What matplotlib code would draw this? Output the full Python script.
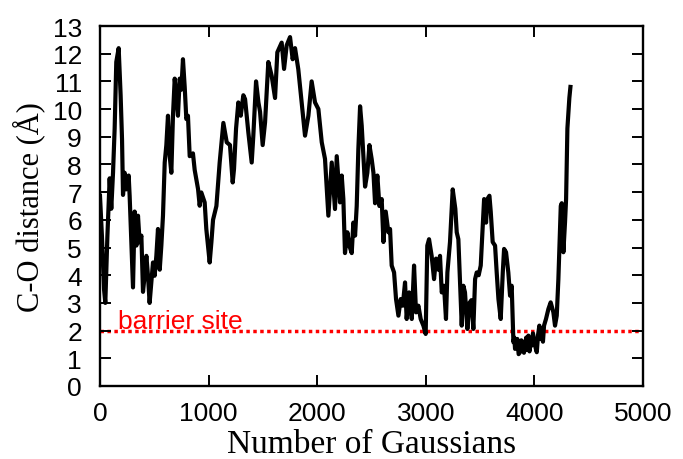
import numpy as np
import matplotlib
matplotlib.use("Agg")
import matplotlib.pyplot as plt

# C-O distance along the run
n_gauss = [0, 18, 37, 49, 68, 89, 104, 120, 135, 150, 172, 190, 203, 212, 227, 242,
           264, 273, 289, 304, 319, 335, 350, 365, 381, 396, 411, 427, 442, 457, 473,
           488, 503, 519, 534, 550, 565, 580, 596, 611, 626, 642, 657, 672, 688, 703,
           718, 734, 749, 764, 780, 795, 810, 826, 856, 872, 903, 918, 933, 964, 979,
           1010, 1026, 1041, 1072, 1102, 1136, 1167, 1197, 1222, 1234, 1253, 1274, 1296,
           1320, 1336, 1366, 1397, 1412, 1437, 1459, 1474, 1498, 1520, 1550, 1581, 1612,
           1633, 1673, 1695, 1719, 1750, 1774, 1796, 1826, 1857, 1888, 1919, 1949, 1980,
           2011, 2042, 2072, 2103, 2134, 2164, 2180, 2210, 2226, 2241, 2256, 2278, 2296,
           2318, 2333, 2349, 2364, 2379, 2395, 2410, 2426, 2441, 2462, 2481, 2502, 2518,
           2533, 2554, 2573, 2594, 2610, 2631, 2656, 2671, 2686, 2708, 2726, 2748, 2769,
           2788, 2809, 2824, 2846, 2871, 2892, 2910, 2932, 2953, 2978, 2999, 3014, 3030,
           3054, 3076, 3094, 3116, 3131, 3147, 3168, 3186, 3199, 3223, 3248, 3272, 3285,
           3300, 3331, 3346, 3361, 3383, 3402, 3420, 3438, 3454, 3469, 3487, 3506, 3525,
           3537, 3555, 3567, 3586, 3598, 3616, 3638, 3653, 3669, 3690, 3709, 3721, 3739,
           3760, 3776, 3791, 3807, 3815, 3822, 3832, 3843, 3855, 3868, 3880, 3893, 3904,
           3914, 3925, 3935, 3945, 3955, 3965, 3976, 3987, 3997, 4010, 4022, 4034, 4046,
           4058, 4068, 4079, 4089, 4107, 4129, 4150, 4175, 4190, 4206, 4221, 4243, 4252,
           4267, 4282, 4292, 4304, 4322, 4332]
co_dist = [6.87, 5.4, 3.5, 3.0, 5.4, 7.5, 6.4, 7.7, 9.3, 11.7, 12.2, 10.5, 8.9, 6.9, 7.7, 7.1,
           7.6, 6.87, 5.2, 3.56, 6.3, 5.07, 6.15, 5.19, 5.43, 3.4, 3.98, 4.7, 3.98, 3.0, 3.74,
           4.46, 3.98, 4.7, 5.67, 4.2, 5.07, 6.15, 8.07, 8.7, 9.76, 8.3, 7.7, 9.76, 11.1, 10.5,
           9.76, 11.1, 10.7, 11.8, 10.8, 9.64, 9.76, 8.3, 8.4, 7.8, 7.11, 6.51, 6.99, 6.63, 5.67,
           4.46, 5.2, 6.0, 6.5, 8.07, 9.5, 8.8, 8.7, 7.35, 7.83, 9.3, 10.24, 9.76,
           10.5, 10.36, 9.16, 8.07, 9.04, 11.0, 10.24, 9.9, 8.7, 9.52, 11.7, 11.2, 10.4,
           12.05, 12.4, 11.45, 12.3, 12.6, 11.8, 12.2, 11.44, 10.24, 9.04, 9.76, 11.0, 10.24,
           10.0, 8.8, 8.2, 6.15, 8.07, 6.39, 8.3, 6.63, 7.6, 6.75, 4.8, 5.55, 5.07,
           4.8, 5.9, 5.43, 6.5, 8.55, 10.1, 9.4, 8.3, 7.2, 7.7, 8.7, 8.19, 7.7,
           6.6, 7.6, 6.5, 6.75, 5.2, 6.3, 5.55, 5.67, 4.35, 4.1, 3.14, 2.54, 3.14,
           2.9, 3.74, 2.42, 3.38, 2.42, 4.35, 2.66, 2.9, 2.42, 2.18, 1.88, 5.07, 5.3,
           4.7, 3.86, 4.6, 4.2, 4.7, 3.38, 3.62, 2.42, 4.1, 5.2, 7.1, 6.4, 5.55,
           5.3, 2.18, 3.62, 3.38, 2.06, 3.0, 3.1, 2.06, 3.86, 4.1, 4.0, 4.35, 5.8,
           6.75, 5.9, 6.75, 6.87, 6.3, 5.2, 5.07, 4.1, 3.14, 2.42, 4.1, 4.95, 4.83,
           4.1, 3.26, 3.62, 1.58, 1.75, 1.34, 1.6, 1.7, 1.15, 1.22, 1.65, 1.58, 1.2,
           1.46, 1.75, 1.3, 1.82, 1.25, 1.6, 1.46, 1.9, 1.7, 1.4, 1.22, 1.85, 2.18,
           1.7, 1.94, 1.6, 2.18, 2.42, 2.78, 3.02, 2.66, 2.18, 2.54, 3.86, 6.5, 6.6,
           4.83, 5.9, 6.75, 9.3, 10.4, 10.8]

barrier = 2.0
barrier_label = "barrier site"

plt.rcParams["font.family"] = "Liberation Sans"
plt.rcParams["xtick.labelsize"] = 19
plt.rcParams["ytick.labelsize"] = 19

fig = plt.figure(figsize=(6.83, 4.60), dpi=100)
ax = fig.add_axes([0.1464, 0.1587, 0.795, 0.7826])

ax.axhline(barrier, color="#ff0000", lw=2.5, dashes=(1, 1), zorder=1)
ax.plot(n_gauss, co_dist, color="black", lw=3.0, zorder=2)
ax.text(166, 2.1, barrier_label, color="#ff0000", fontsize=19,
        va="baseline", ha="left")

ax.set_xlim(0, 5000)
ax.set_ylim(0, 13)
ax.set_xticks(np.arange(0, 5001, 1000))
ax.set_yticks(np.arange(0, 14, 1))
ax.tick_params(direction="in", length=8, width=1.4, top=True, right=True)
ax.tick_params(axis="y", pad=13)
ax.tick_params(axis="x", pad=11)
for sp in ax.spines.values():
    sp.set_linewidth(1.7)

ax.set_xlabel("Number of Gaussians", family="Liberation Serif", fontsize=24, labelpad=2)
ax.set_ylabel("C-O distance (Å)", family="Liberation Serif", fontsize=22, labelpad=5)

fig.savefig("out.png", dpi=100)
